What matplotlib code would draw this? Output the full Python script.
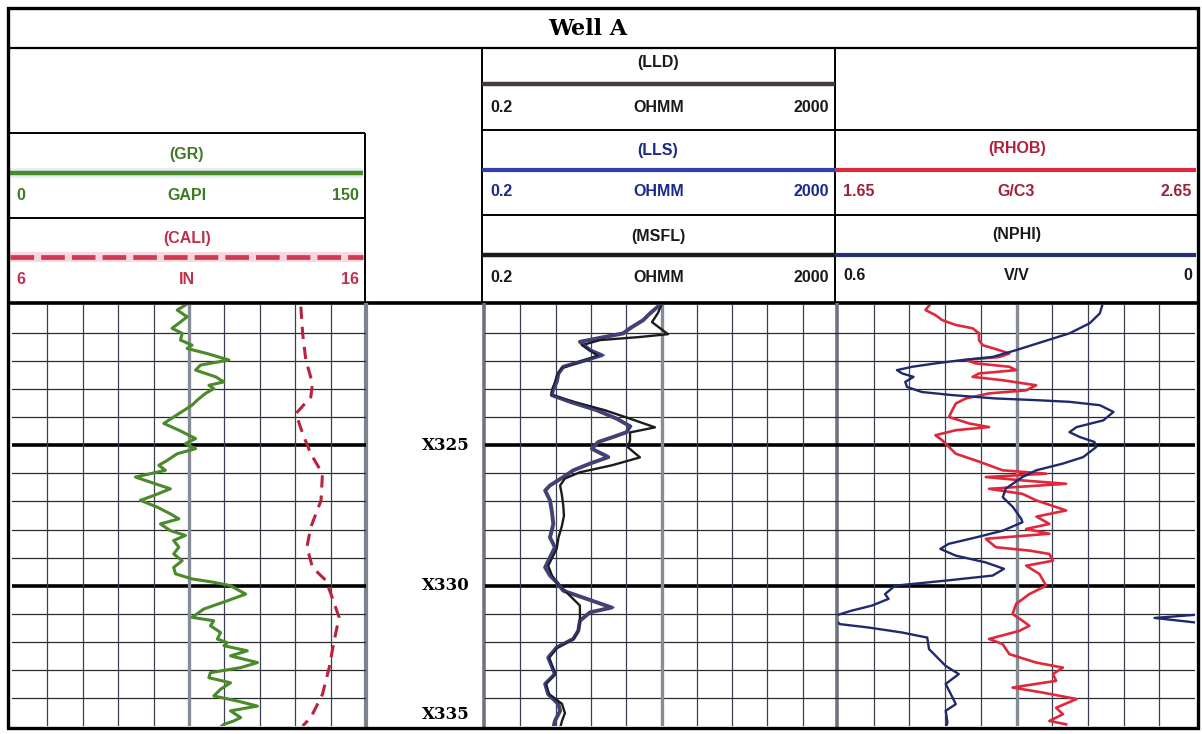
import numpy as np
import matplotlib
matplotlib.use("Agg")
import matplotlib.pyplot as plt
from matplotlib.patches import Rectangle

plt.rcParams['font.family'] = ['Liberation Sans', 'DejaVu Sans']

# ---- log data (depth in ft, values in curve units) ----
gr_depth = [320.00, 320.18, 320.42, 320.65, 320.83, 321.01, 321.25, 321.43, 321.55, 321.73,
            321.96, 322.14, 322.32, 322.56, 322.74, 322.86, 322.98, 323.15, 323.39, 323.57,
            323.87, 324.22, 324.46, 324.76, 324.94, 325.12, 325.30, 325.54, 325.71, 325.89,
            326.13, 326.31, 326.55, 326.79, 326.96, 327.20, 327.44, 327.62, 327.80, 328.04,
            328.21, 328.39, 328.63, 328.87, 329.11, 329.35, 329.58, 329.76, 329.88, 330.00,
            330.30, 330.54, 330.83, 331.13, 331.25, 331.43, 331.67, 331.90, 332.03, 332.14,
            332.32, 332.50, 332.74, 332.92, 333.10, 333.28, 333.46, 333.69, 333.93, 334.11,
            334.29, 334.46, 334.70, 334.82, 334.94, 335.06]
gr_api = [73.5, 70.0, 74.2, 70.7, 67.8, 72.1, 71.4, 76.3, 74.2, 82.7,
          91.9, 79.9, 77.8, 86.3, 89.8, 83.4, 85.5, 82.0, 78.5, 76.3,
          70.7, 64.3, 70.7, 77.8, 73.5, 77.8, 70.0, 65.7, 62.2, 65.0,
          52.3, 58.6, 67.1, 60.0, 54.4, 61.5, 67.1, 70.7, 62.9, 67.1,
          73.5, 68.5, 70.7, 68.5, 72.1, 68.5, 69.3, 76.3, 85.5, 92.6,
          99.0, 91.2, 81.3, 76.3, 85.5, 84.1, 88.4, 87.0, 91.2, 89.8,
          99.7, 92.6, 104.0, 96.9, 84.1, 83.4, 92.6, 88.4, 85.5, 95.5,
          104.0, 92.6, 96.9, 94.0, 89.8, 88.0]

cali_depth = [320.06, 321.01, 321.96, 322.80, 323.28, 323.87, 324.58, 325.30, 326.01, 326.96,
              327.92, 328.63, 329.35, 329.82, 330.30, 331.13, 331.96, 332.92, 333.87, 334.70, 335.00]
cali_in = [14.16, 14.21, 14.30, 14.49, 14.44, 14.02, 14.21, 14.44, 14.77, 14.73,
           14.44, 14.33, 14.49, 14.87, 15.01, 15.24, 15.10, 14.96, 14.77, 14.44, 14.21]

lld_depth = [319.94, 320.30, 320.54, 320.83, 321.01, 321.31, 321.61, 321.79, 322.03, 322.20,
             322.44, 322.74, 322.98, 323.21, 323.45, 323.75, 324.05, 324.32, 324.53, 324.70,
             324.88, 325.12, 325.30, 325.42, 325.65, 325.89, 326.13, 326.43, 326.61, 326.96,
             327.32, 327.80, 328.28, 328.63, 329.35, 329.64, 329.88, 330.18, 330.47, 330.78,
             330.95, 331.25, 331.61, 331.90, 332.20, 332.56, 333.15, 333.50, 333.87, 334.22,
             334.46, 334.82, 335.06]
lld_ohmm = [20.1, 14.8, 12.4, 8.8, 7.4, 2.38, 3.10, 4.20, 2.38, 1.54,
            1.36, 1.30, 1.19, 1.14, 1.84, 3.69, 6.21, 8.8, 8.07, 5.69,
            3.85, 3.24, 4.20, 4.99, 3.10, 2.00, 1.54, 1.09, 0.96, 1.09,
            1.14, 1.19, 1.09, 1.24, 0.96, 1.09, 1.30, 1.54, 2.84, 5.45,
            3.10, 2.38, 2.28, 2.00, 1.30, 1.04, 1.24, 0.96, 1.04, 1.36,
            1.42, 1.24, 1.19]
lls_ohmm = [20.8, 15.2, 12.0, 8.4, 7.0, 2.45, 3.2, 4.5, 2.3, 1.58,
            1.38, 1.28, 1.2, 1.15, 1.9, 3.8, 6.5, 9.2, 8.0, 5.5,
            3.7, 3.3, 4.5, 5.1, 3.0, 2.05, 1.6, 1.1, 0.97, 1.08,
            1.12, 1.2, 1.08, 1.26, 0.97, 1.1, 1.32, 1.6, 3.0, 5.8,
            3.0, 2.35, 2.25, 1.95, 1.28, 1.03, 1.22, 0.95, 1.03, 1.33,
            1.4, 1.22, 1.17]

msfl_depth = [319.93, 320.29, 320.61, 321.04, 321.14, 321.25, 321.43, 321.61, 321.82, 322.04,
              322.25, 322.50, 322.75, 323.04, 323.21, 323.46, 323.75, 324.11, 324.36, 324.54,
              324.82, 325.07, 325.43, 325.71, 325.96, 326.18, 326.43, 326.79, 327.14, 327.50,
              327.86, 328.29, 328.68, 329.29, 329.64, 329.89, 330.18, 330.71, 331.25, 331.61,
              331.89, 332.21, 332.57, 333.14, 333.50, 333.86, 334.21, 334.54, 334.82, 335.07]
msfl_ohmm = [20.3, 18.2, 15.6, 23.7, 11.4, 4.02, 2.51, 3.10, 3.81, 2.26,
             1.49, 1.31, 1.24, 1.15, 1.15, 2.09, 4.58, 10.0, 16.9, 8.8,
             8.8, 8.34, 11.4, 5.50, 2.38, 1.61, 1.42, 1.49, 1.54, 1.57,
             1.49, 1.36, 1.30, 1.04, 1.15, 1.31, 1.61, 2.38, 2.38, 2.26,
             2.00, 1.31, 1.06, 1.24, 0.98, 1.06, 1.49, 1.61, 1.49, 1.42]

rhob_depth = [319.88, 320.18, 320.36, 320.54, 320.71, 320.83, 321.01, 321.25, 321.43, 321.61,
              321.73, 321.85, 321.96, 322.08, 322.20, 322.32, 322.44, 322.56, 322.68, 322.86,
              323.04, 323.15, 323.33, 323.51, 323.75, 323.99, 324.22, 324.35, 324.46, 324.64,
              324.82, 325.06, 325.30, 325.54, 325.71, 325.89, 326.01, 326.13, 326.25, 326.37,
              326.55, 326.73, 326.96, 327.32, 327.54, 327.80, 327.98, 328.15, 328.33, 328.63,
              328.75, 328.87, 329.11, 329.29, 329.58, 330.00, 330.30, 330.65, 331.01, 331.25,
              331.43, 331.61, 331.90, 332.08, 332.44, 332.74, 332.92, 333.15, 333.39, 333.63,
              333.81, 334.04, 334.35, 334.58, 334.82, 334.94]
rhob_gcc = [1.914, 1.895, 1.923, 1.942, 1.980, 2.027, 2.045, 2.045, 2.055, 2.102,
            2.130, 2.102, 2.008, 2.036, 2.130, 2.149, 2.045, 2.027, 2.111, 2.205,
            2.177, 2.073, 2.008, 1.980, 1.970, 1.961, 2.017, 2.073, 1.980, 1.923,
            1.942, 1.961, 1.980, 2.036, 2.073, 2.111, 2.233, 2.064, 2.167, 2.289,
            2.073, 2.167, 2.205, 2.289, 2.206, 2.242, 2.177, 2.242, 2.064, 2.092,
            2.186, 2.242, 2.252, 2.177, 2.214, 2.233, 2.186, 2.149, 2.139, 2.167,
            2.186, 2.158, 2.073, 2.111, 2.130, 2.205, 2.280, 2.252, 2.261, 2.139,
            2.224, 2.318, 2.261, 2.280, 2.242, 2.289]

nphi_depth = [319.88, 320.30, 320.65, 321.01, 321.31, 321.61, 321.85, 321.96, 322.08, 322.20,
              322.32, 322.44, 322.56, 322.74, 322.92, 323.10, 323.21, 323.33, 323.39, 323.45,
              323.57, 323.81, 324.11, 324.35, 324.53, 324.70, 324.88, 325.06, 325.42, 325.65,
              325.89, 326.13, 326.54, 326.85, 327.20, 327.62, 327.74, 328.04, 328.28, 328.51,
              328.69, 328.93, 329.17, 329.40, 329.64, 329.82, 330.00, 330.30, 330.47, 330.71,
              330.89, 331.04, 331.15, 331.31, 331.37, 331.49, 331.67, 331.85, 332.26, 332.86,
              333.15, 333.50, 334.22, 334.46, 334.88, 335.04]
nphi_vv = [0.154, 0.160, 0.177, 0.211, 0.256, 0.301, 0.340, 0.391, 0.436, 0.475,
           0.501, 0.492, 0.473, 0.487, 0.484, 0.459, 0.408, 0.335, 0.267, 0.211,
           0.160, 0.137, 0.154, 0.199, 0.211, 0.194, 0.169, 0.166, 0.188, 0.222,
           0.267, 0.290, 0.318, 0.323, 0.306, 0.292, 0.290, 0.323, 0.368, 0.414,
           0.428, 0.402, 0.352, 0.321, 0.340, 0.419, 0.504, 0.521, 0.515, 0.543,
           0.577, 0.600, 0.668, 0.600, 0.597, 0.549, 0.492, 0.450, 0.447, 0.419,
           0.397, 0.419, 0.402, 0.419, 0.416, 0.419]

depth_marks = [325, 330, 335]

TOP, BASE = 320, 335
W, H = 1202, 734

GR_C, CALI_C = '#4b8a2b', '#b8243f'
LLD_C, LLS_C, MSFL_C = '#4e4352', '#3040b0', '#1c1c1c'
RHOB_C, NPHI_C = '#e0283c', '#1f2a6e'


def px_axes(fig, x0, y0, x1, y1):
    return fig.add_axes([x0 / W, 1 - y1 / H, (x1 - x0) / W, (y1 - y0) / H])


def bare(ax):
    ax.tick_params(which='both', bottom=False, top=False, left=False, right=False,
                   labelbottom=False, labeltop=False, labelleft=False, labelright=False)
    for s in ax.spines.values():
        s.set_visible(False)
    ax.patch.set_alpha(0)


def setup_track(ax, xlim, log=False):
    if log:
        ax.set_xscale('log')
    ax.set_xlim(*xlim)
    ax.set_ylim(BASE, TOP)
    bare(ax)
    for d in range(TOP + 1, BASE):
        if d % 5 == 0:
            ax.axhline(d, color='black', lw=2.6, zorder=1)
        else:
            ax.axhline(d, color='#2b2b2b', lw=0.9, zorder=1)
    if log:
        lo, hi = xlim
        edges = lo * 10 ** (np.log10(hi / lo) * np.arange(11) / 10)
    else:
        edges = np.linspace(xlim[0], xlim[1], 11)
    for i, xv in enumerate(edges[1:-1], 1):
        if i == 5:
            ax.axvline(xv, color='#858c95', lw=2.4, zorder=1)
        else:
            ax.axvline(xv, color='#3b4050', lw=0.9, zorder=1)


def twin_scale(ax, xlim):
    tw = ax.twiny()
    tw.set_xlim(*xlim)
    tw.set_ylim(BASE, TOP)
    # twiny turns the host's bottom ticks back on
    bare(ax)
    bare(tw)
    return tw


fig = plt.figure(figsize=(W / 100, H / 100), dpi=100)

# header frame drawn in pixel space
bg = fig.add_axes([0, 0, 1, 1])
bg.set_xlim(0, W)
bg.set_ylim(H, 0)
bg.axis('off')

bg.add_patch(Rectangle((8, 8), 1190, 720, fill=False, lw=2.4, ec='black', zorder=5))
bg.hlines(48, 8, 1198, color='black', lw=1.6)
bg.vlines([482, 835], 48, 303, color='black', lw=1.4)
bg.hlines([133, 218], 8, 365, color='black', lw=1.4)
bg.vlines(365, 133, 303, color='black', lw=1.4)
bg.hlines([130, 215], 482, 1198, color='black', lw=1.4)
bg.hlines(303, 8, 1198, color='black', lw=2.6)
# track borders
bg.vlines(366, 303, 728, color='#7b838c', lw=3.0)
bg.vlines(484, 303, 728, color='#6f7280', lw=2.6)
bg.vlines(837, 303, 728, color='#6f7280', lw=2.6)

bg.text(588, 29, 'Well A', ha='center', va='center', fontsize=16,
        fontweight='bold', family='DejaVu Serif')

hdr = dict(fontsize=11.5, fontweight='bold', va='center')


def scale_row(x0, x1, y, lo, unit, hi, color):
    bg.text(x0 + 8, y, lo, ha='left', color=color, **hdr)
    bg.text((x0 + x1) / 2, y, unit, ha='center', color=color, **hdr)
    bg.text(x1 - 6, y, hi, ha='right', color=color, **hdr)


# GR / CALI legend
bg.text(187, 154, '(GR)', ha='center', color='#3d7a22', **hdr)
bg.hlines(173, 10, 363, color='#a8c8e0', lw=7, alpha=0.3)
bg.hlines(173, 10, 363, color=GR_C, lw=3.2)
scale_row(8, 365, 196, '0', 'GAPI', '150', '#3d7a22')
bg.text(187, 238, '(CALI)', ha='center', color='#c0304a', **hdr)
bg.hlines(257, 10, 363, color='#f08aa0', lw=7, alpha=0.35)
bg.hlines(257, 10, 363, color='#cf3a52', lw=3.4, linestyles=(0, (5, 1.5)))
scale_row(8, 365, 280, '6', 'IN', '16', '#c0304a')

# resistivity legend
bg.text(658, 62, '(LLD)', ha='center', color='#1a1a1a', **hdr)
bg.hlines(84, 482, 835, color='#4a3840', lw=3.2)
scale_row(482, 835, 107, '0.2', 'OHMM', '2000', '#1a1a1a')
bg.text(658, 150, '(LLS)', ha='center', color='#1a2a8a', **hdr)
bg.hlines(170, 482, 835, color=LLS_C, lw=3.0)
scale_row(482, 835, 192, '0.2', 'OHMM', '2000', '#1a2a8a')
bg.text(658, 237, '(MSFL)', ha='center', color='#1a1a1a', **hdr)
bg.hlines(255, 482, 835, color='#1a1a1a', lw=3.2)
scale_row(482, 835, 277, '0.2', 'OHMM', '2000', '#1a1a1a')

# density / neutron legend
bg.text(1017, 148, '(RHOB)', ha='center', color='#b0203a', **hdr)
bg.hlines(170, 835, 1196, color=RHOB_C, lw=3.0)
scale_row(835, 1198, 192, '1.65', 'G/C3', '2.65', '#a0203a')
bg.text(1017, 235, '(NPHI)', ha='center', color='#1a1a1a', **hdr)
bg.hlines(255, 835, 1196, color='#263070', lw=3.0)
scale_row(835, 1198, 275, '0.6', 'V/V', '0', '#1a1a1a')

# ---- track 1: GR and caliper ----
ax_gr = px_axes(fig, 12, 305, 366, 726)
setup_track(ax_gr, (0, 150))
ax_gr.plot(gr_api, gr_depth, color=GR_C, lw=2.2, zorder=3)
ax_cali = twin_scale(ax_gr, (6, 16))
ax_cali.plot(cali_in, cali_depth, color=CALI_C, lw=2.2, ls=(0, (4, 2.6)), zorder=3)

# ---- depth column ----
ax_dep = px_axes(fig, 366, 305, 484, 726)
ax_dep.set_ylim(BASE, TOP)
ax_dep.set_xlim(0, 1)
ax_dep.axis('off')
for d in depth_marks:
    va = 'bottom' if d == BASE else 'center'
    ax_dep.text(0.68, d - (0.12 if d == BASE else 0), f'X{d}', ha='center', va=va,
                fontsize=12, fontweight='bold', family='DejaVu Serif')

# ---- track 2: resistivity ----
ax_res = px_axes(fig, 485, 305, 838, 726)
setup_track(ax_res, (0.2, 2000), log=True)
ax_res.plot(lld_ohmm, lld_depth, color=LLD_C, lw=2.8, zorder=3)
ax_res.plot(lls_ohmm, lld_depth, color=LLS_C, lw=1.1, alpha=0.8, zorder=4)
ax_res.plot(msfl_ohmm, msfl_depth, color=MSFL_C, lw=1.7, zorder=3)

# ---- track 3: density / neutron ----
ax_rhob = px_axes(fig, 838, 305, 1195, 726)
setup_track(ax_rhob, (1.65, 2.65))
ax_nphi = twin_scale(ax_rhob, (0.6, 0))
nphi = np.array(nphi_vv)
ax_nphi.plot(nphi, nphi_depth, color=NPHI_C, lw=1.7, zorder=3)
# wrapped backup trace where porosity runs past the left scale edge
wrap = np.where(nphi >= 0.6, nphi - 0.6, np.nan)
ax_nphi.plot(wrap, nphi_depth, color=NPHI_C, lw=1.7, zorder=3)
ax_rhob.plot(rhob_gcc, rhob_depth, color=RHOB_C, lw=1.9, zorder=4)

fig.savefig('out.png', dpi=100)
